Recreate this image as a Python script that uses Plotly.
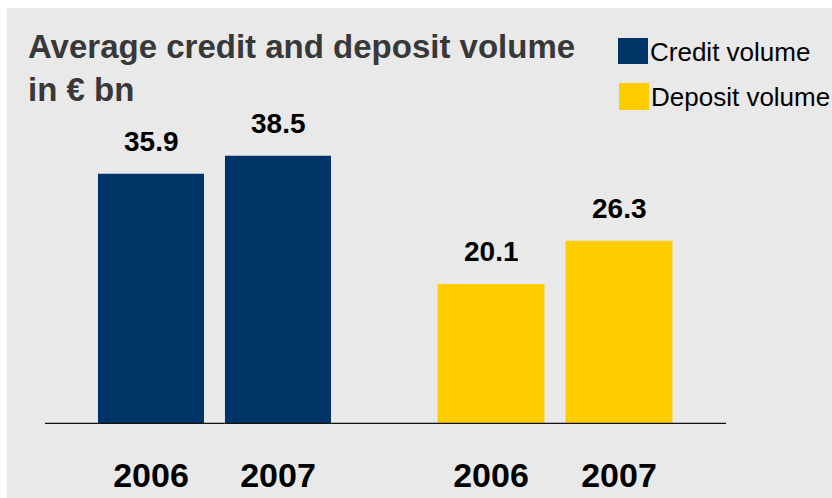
import plotly.graph_objects as go

# Data
years = ["2006", "2007"]
credit_volume = [35.9, 38.5]
deposit_volume = [20.1, 26.3]
series_names = ["Credit volume", "Deposit volume"]
series_colors = ["#003366", "#FFCC00"]
title_lines = ["Average credit and deposit volume", "in € bn"]

W, H = 832, 498
FONT = "Liberation Sans, Arial, Helvetica, sans-serif"


def fx(p):
    """pixel column -> paper x"""
    return p / W


def fy(p):
    """pixel row (from top) -> paper y"""
    return 1 - p / H


fig = go.Figure()

# one category axis per group so each pair sits in its own block
groups = [
    dict(values=credit_volume, name=series_names[0], color=series_colors[0],
         xaxis="x", domain=[fx(87.5), fx(341.5)]),
    dict(values=deposit_volume, name=series_names[1], color=series_colors[1],
         xaxis="x2", domain=[fx(427), fx(683)]),
]

annotations = []
for g in groups:
    fig.add_trace(go.Bar(
        x=years, y=g["values"], name=g["name"],
        marker=dict(color=g["color"], line=dict(width=0)),
        xaxis=g["xaxis"], yaxis="y", showlegend=False,
        hoverinfo="x+y",
    ))
    # value labels, placed on the category index of each bar
    for i, v in enumerate(g["values"]):
        annotations.append(dict(
            x=i, y=v, xref=g["xaxis"], yref="y",
            text=f"{v:.1f}", showarrow=False,
            xanchor="center", yanchor="bottom", yshift=15,
            font=dict(family=FONT, size=28, color="#000000", weight="bold"),
        ))

axis_common = dict(
    type="category", range=[-0.5, 1.5], anchor="y",
    showgrid=False, zeroline=False, showline=False,
    ticks="outside", ticklen=21, tickcolor="rgba(0,0,0,0)",
    tickfont=dict(family=FONT, size=34, color="#000000", weight="bold"),
    automargin=False, fixedrange=True,
)

# title
annotations.append(dict(
    x=fx(26), y=fy(26), xref="paper", yref="paper",
    xanchor="left", yanchor="top", align="left",
    text="<br>".join(title_lines), showarrow=False,
    font=dict(family=FONT, size=33, color="#383838", weight="bold"),
))

# legend (square swatches + labels)
legend_rows = [(38, 64, 618, 69), (83, 110, 619, 114)]
shapes = [
    # grey panel
    dict(type="rect", xref="paper", yref="paper",
         x0=fx(7), x1=1, y0=0, y1=fy(8),
         fillcolor="#E9E9E9", line=dict(width=0), layer="below"),
    # baseline
    dict(type="line", xref="paper", yref="y",
         x0=fx(45), x1=fx(726), y0=0, y1=0,
         line=dict(color="#111111", width=2.5)),
]
for (top, bot, left, text_bottom), name, color in zip(legend_rows, series_names, series_colors):
    shapes.append(dict(type="rect", xref="paper", yref="paper",
                       x0=fx(left), x1=fx(left + 30), y0=fy(bot), y1=fy(top),
                       fillcolor=color, line=dict(width=0)))
    annotations.append(dict(
        x=fx(left + 30), y=fy(text_bottom), xref="paper", yref="paper",
        xanchor="left", yanchor="bottom", text=name, showarrow=False,
        font=dict(family=FONT, size=26, color="#000000"),
    ))

fig.update_layout(
    width=W, height=H,
    margin=dict(l=0, r=0, t=0, b=0, autoexpand=False),
    paper_bgcolor="#FFFFFF",
    plot_bgcolor="rgba(0,0,0,0)",
    bargap=0.165,
    xaxis=dict(domain=groups[0]["domain"], **axis_common),
    xaxis2=dict(domain=groups[1]["domain"], **axis_common),
    yaxis=dict(domain=[fy(424), 1], range=[0, 424 / 6.97],
               visible=False, fixedrange=True),
    shapes=shapes,
    annotations=annotations,
    showlegend=False,
)

fig.write_html("out.html", config={"displayModeBar": False})
